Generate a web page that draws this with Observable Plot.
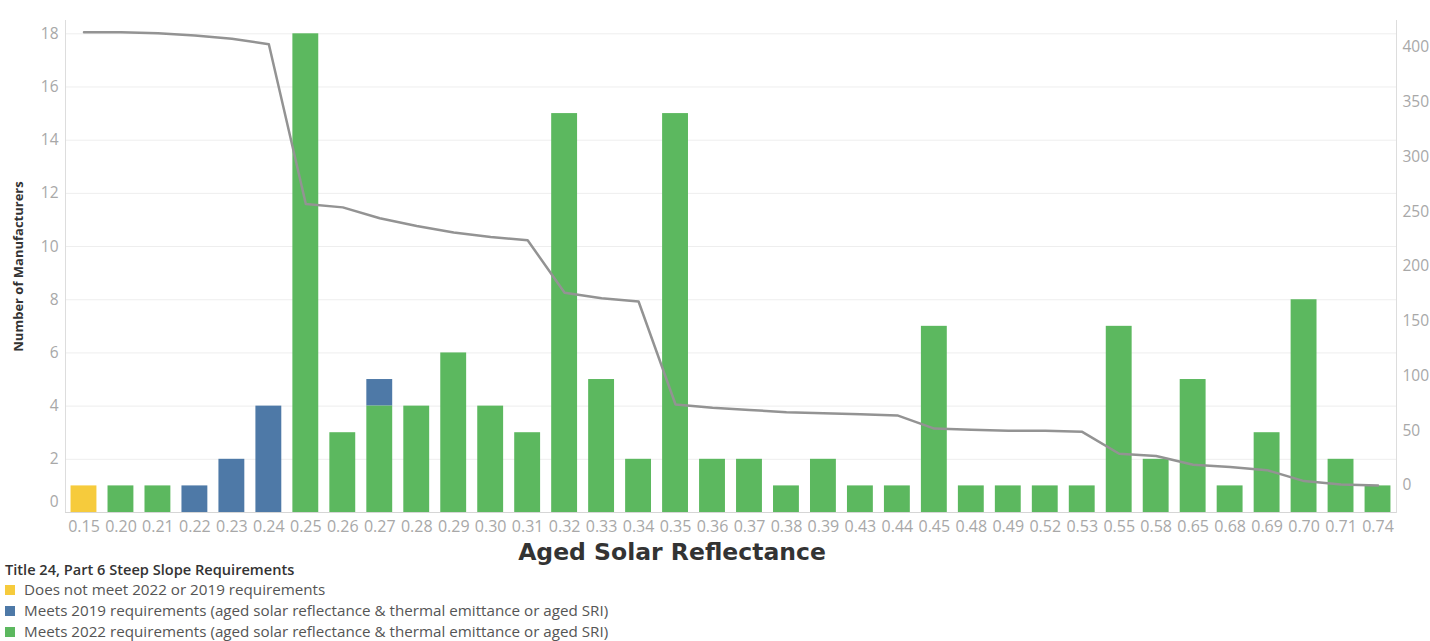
<!DOCTYPE html>
<html><head><meta charset="utf-8">
<script src="https://cdn.jsdelivr.net/npm/d3@7"></script>
<script src="https://cdn.jsdelivr.net/npm/@observablehq/plot@0.6"></script>
<style>
body{margin:0;background:#fff;font-family:"Open Sans",sans-serif;}
#chart svg{display:block;overflow:visible}
#legend{margin-left:5px;margin-top:-1px}
.lt{font-weight:600;font-size:14.6px;color:#333;height:20px;line-height:20px}
.li{font-size:15.2px;color:#555;height:21px;line-height:21px;display:flex;align-items:center}
.sw{width:10px;height:10px;margin-right:9px;flex:none}
</style></head><body>
<div id="chart"></div>
<div id="legend"></div>
<script>
const categories = ["0.15","0.20","0.21","0.22","0.23","0.24","0.25","0.26","0.27","0.28","0.29","0.30","0.31","0.32","0.33","0.34","0.35","0.36","0.37","0.38","0.39","0.43","0.44","0.45","0.48","0.49","0.52","0.53","0.55","0.58","0.65","0.68","0.69","0.70","0.71","0.74"];
const notMeet   = [1,0,0,0,0,0, 0,0,0,0,0,0,0, 0,0,0,0,0,0,0,0,0,0,0,0,0,0,0,0,0,0,0,0,0,0,0];
const meets2019 = [0,0,0,1,2,4, 0,0,1,0,0,0,0, 0,0,0,0,0,0,0,0,0,0,0,0,0,0,0,0,0,0,0,0,0,0,0];
const meets2022 = [0,1,1,0,0,0, 18,3,4,4,6,4,3, 15,5,2,15,2,2,1,2,1,1,7,1,1,1,1,7,2,5,1,3,8,2,1];
const lineValues = [414,414,413,411,408,403, 257,254,244,237,231,227,224, 176,171,168, 74,71,69,67,66,65,64, 52,51,50,50,49, 29,27,19,17,14,4,1,0];
const leftTicks = [0,2,4,6,8,10,12,14,16,18];
const rightTicks = [0,50,100,150,200,250,300,350,400];
const seriesNames = [
  "Does not meet 2022 or 2019 requirements",
  "Meets 2019 requirements (aged solar reflectance & thermal emittance or aged SRI)",
  "Meets 2022 requirements (aged solar reflectance & thermal emittance or aged SRI)"
];
const seriesColors = ["#f6cb3c","#4e79a7","#5cb85f"];
const legendTitle = "Title 24, Part 6 Steep Slope Requirements";
const xTitle = "Aged Solar Reflectance";
const yTitle = "Number of Manufacturers";

const leftMax = 18.5, rightMin = -24.66, rightMax = 424.66;
const toLeft = v => (v - rightMin) / (rightMax - rightMin) * leftMax;
const fromLeft = d => d / leftMax * (rightMax - rightMin) + rightMin;

const seriesValues = [notMeet, meets2019, meets2022];
const rows = [];
categories.forEach((c, i) => {
  seriesValues.forEach((arr, s) => {
    if (arr[i] > 0) rows.push({cat: c, series: seriesNames[s], n: arr[i]});
  });
});
const lineRows = categories.map((c, i) => ({cat: c, v: toLeft(lineValues[i])}));

const chart = Plot.plot({
  width: 1430, height: 560,
  marginLeft: 65, marginRight: 34, marginTop: 20, marginBottom: 48,
  style: {fontFamily: "Open Sans", fontSize: "15.5px", color: "#a8a8a8", background: "#fff", overflow: "visible"},
  x: {domain: categories, paddingInner: 0.3, paddingOuter: 0.15},
  y: {domain: [0, leftMax]},
  color: {domain: seriesNames, range: seriesColors},
  marks: [
    Plot.gridY(leftTicks.filter(d => d > 0), {stroke: "#eeeeee", strokeOpacity: 1}),
    Plot.frame({anchor: "left", stroke: "#dddddd"}),
    Plot.frame({anchor: "right", stroke: "#dddddd"}),
    Plot.barY(rows, {x: "cat", y: "n", fill: "series", order: [seriesNames[0], seriesNames[2], seriesNames[1]]}),
    Plot.line(lineRows, {x: "cat", y: "v", stroke: "#939393", strokeWidth: 2.5}),
    Plot.ruleY([0], {stroke: "#d6d6d6"}),
    Plot.axisY(leftTicks.filter(d => d > 0), {anchor: "left", tickSize: 0, tickPadding: 7, label: null}),
    Plot.axisY([0], {anchor: "left", tickSize: 0, tickPadding: 7, label: null, dy: -10}),
    Plot.axisY(rightTicks.map(toLeft), {anchor: "right", tickSize: 0, tickPadding: 6, label: null, tickFormat: d => String(Math.round(fromLeft(d)))}),
    Plot.axisX({tickSize: 0, tickPadding: 8, label: null, fontSize: 16}),
    Plot.text([yTitle], {text: d => d, frameAnchor: "left", textAnchor: "middle", rotate: -90, dx: -47, fontWeight: "bold", fontSize: 13, fill: "#333"}),
    Plot.text([xTitle], {text: d => d, frameAnchor: "bottom", textAnchor: "middle", dx: -59, dy: 47, fontSize: 23.5, fontWeight: "bold", fill: "#333", fontFamily: "DejaVu Sans"})
  ]
});
document.getElementById("chart").append(chart);

const legend = document.getElementById("legend");
const t = document.createElement("div");
t.className = "lt"; t.textContent = legendTitle;
legend.append(t);
seriesNames.forEach((name, i) => {
  const row = document.createElement("div");
  row.className = "li";
  const sw = document.createElement("span");
  sw.className = "sw"; sw.style.background = seriesColors[i];
  const tx = document.createElement("span");
  tx.textContent = name;
  row.append(sw, tx);
  legend.append(row);
});
</script>
</body></html>
